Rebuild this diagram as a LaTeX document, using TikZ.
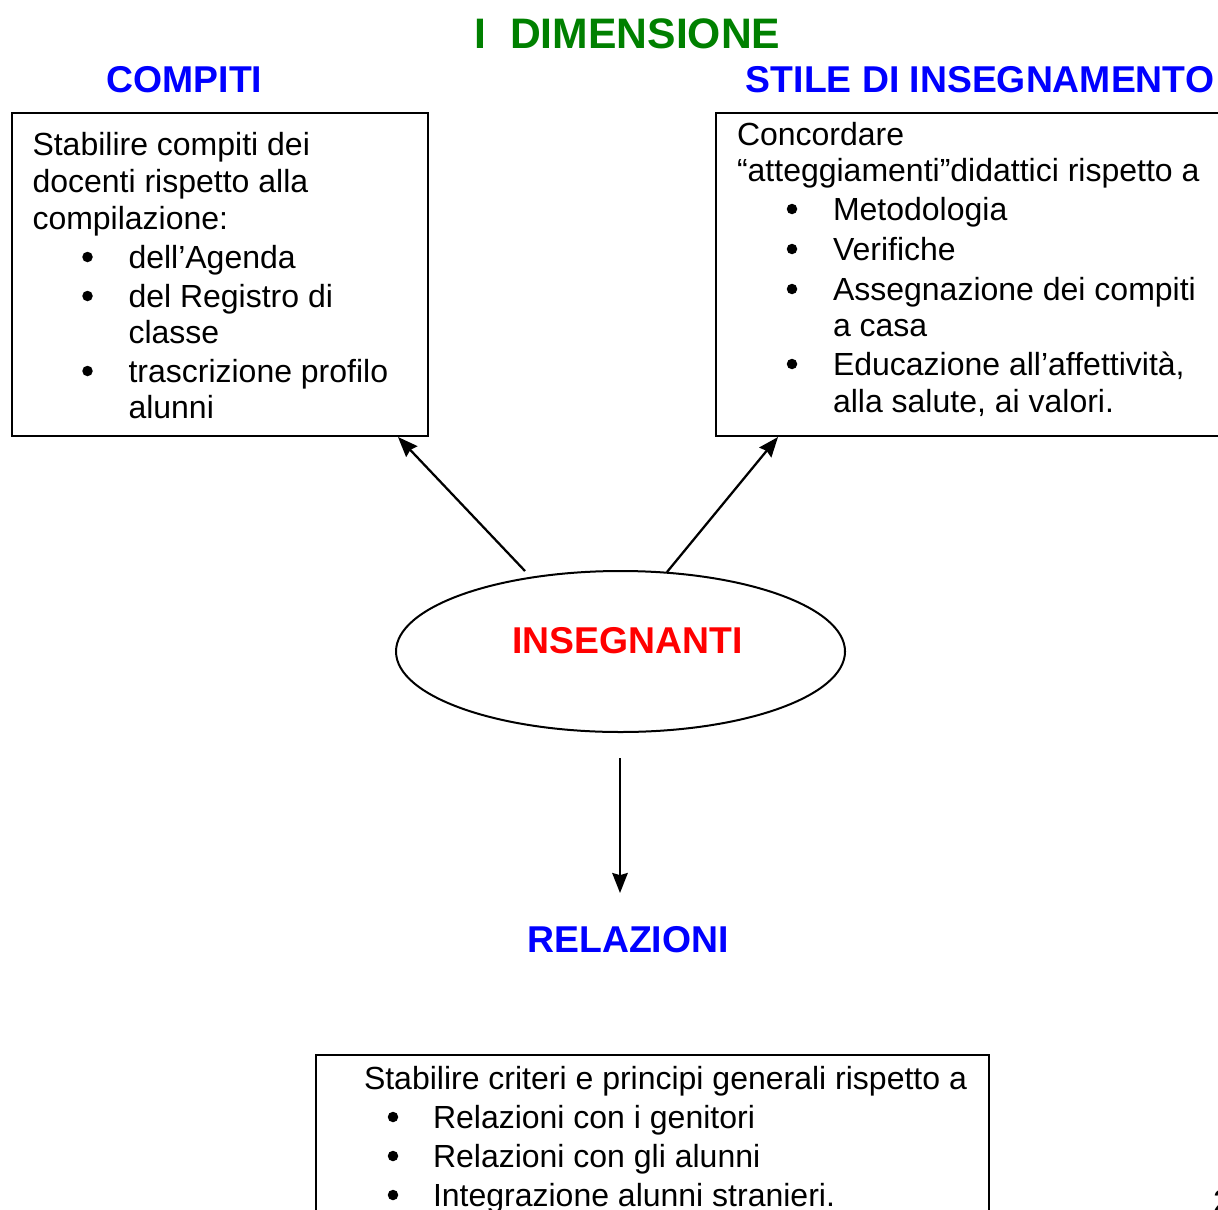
\documentclass[tikz,border=0pt]{standalone}
\usepackage{fontspec}
\setmainfont{Liberation Sans}
\usepackage{tikz}
\usetikzlibrary{calc}
\usetikzlibrary{arrows.meta,shapes.geometric,fit}
\definecolor{verde}{RGB}{0,128,0}
\definecolor{blu}{RGB}{0,0,255}
\definecolor{rosso}{RGB}{255,0,0}
\tikzset{>={Stealth[length=7.5pt,width=5.8pt,inset=0.8pt]}}
\tikzset{box/.style={draw,line width=.75pt,inner sep=0pt},
  txt/.style={anchor=base west,inner sep=0pt,font=\fontsize{12}{13.8}\selectfont},
  blt/.style={circle,fill,inner sep=0pt,minimum size=10.5*.375pt},
  ttl/.style={anchor=base,inner sep=0pt,font=\fontsize{14}{16}\selectfont\bfseries}}

\begin{document}
\begin{tikzpicture}[x=.375pt,y=-.375pt,line width=.75pt]
\clip (0,0) rectangle (1218,1209);
\node[ttl,text=verde,font=\fontsize{16}{19}\selectfont\bfseries] (dim) at (627.5,49) {I\ \ DIMENSIONE};
\node[ttl,text=blu] (tcomp) at (184.5,93) {COMPITI};
\node[ttl,text=blu] (tstile) at (980,93) {STILE DI INSEGNAMENTO};
% riquadri
\node[box,fit={(12,113) (428,436)}] (compiti) {};
\node[box,fit={(716,113) (1240,436)}] (stile) {};
\node[box,fit={(316,1055) (989,1240)}] (rel) {};
% testo compiti
\node[txt] (c1) at (31.5,155) {Stabilire compiti dei};
\node[txt] (c2) at (31.5,192) {docenti rispetto alla};
\node[txt] (c3) at (31.5,229) {compilazione:};
\foreach \y in {257,296,371} \node[blt] (cb\y) at (87.5,\y) {};
\foreach \y/\t [count=\i] in {268/dell’Agenda,307/del Registro di,343/classe,382/trascrizione profilo,418/alunni}
  \node[txt] (cv\i) at (127.5,\y) {\t};
% testo stile
\node[txt] (s1) at (736,145) {Concordare};
\node[txt] (s2) at (736,181) {“atteggiamenti”didattici rispetto a};
\foreach \y in {209,249,289,364} \node[blt] (sb\y) at (792,\y) {};
\foreach \y/\t [count=\i] in {220/Metodologia,260/Verifiche,300/Assegnazione dei compiti,336/a casa,375/{Educazione all’affettività,},412/{alla salute, ai valori.}}
  \node[txt] (sv\i) at (832,\y) {\t};
% centro
\node[ellipse,draw,minimum width=449*.375pt,minimum height=161*.375pt,inner sep=0pt] (ins) at (620.5,651.5) {};
\node[ttl,text=rosso] (tins) at (627.5,653) {INSEGNANTI};
\coordinate (p1) at (525,571);
\coordinate (p2) at (667,572);
\coordinate (q1) at ($(compiti.south east)+(-31,0)$);
\coordinate (q2) at ($(stile.south west)+(63,0)$);
\draw[->,line width=.85pt] (p1) -- (q1);
\draw[->,line width=.85pt] (p2) -- (q2);
\coordinate (p3) at (620,758);
\coordinate (q3) at (620,893);
\draw[->,line width=.85pt] (p3) -- (q3);
\node[ttl,text=blu] (trel) at (628,952) {RELAZIONI};
% testo relazioni
\node[txt] (r1) at (363,1089) {Stabilire criteri e principi generali rispetto a};
\foreach \y/\t [count=\i] in {1128/Relazioni con i genitori,1167/Relazioni con gli alunni,1206/Integrazione alunni stranieri.}{
  \node[blt] (rb\i) at (393,\y-11) {};
  \node[txt] (rv\i) at (432,\y) {\t};}
\node[txt] (pag) at (1212,1212) {2};
\end{tikzpicture}
\end{document}
